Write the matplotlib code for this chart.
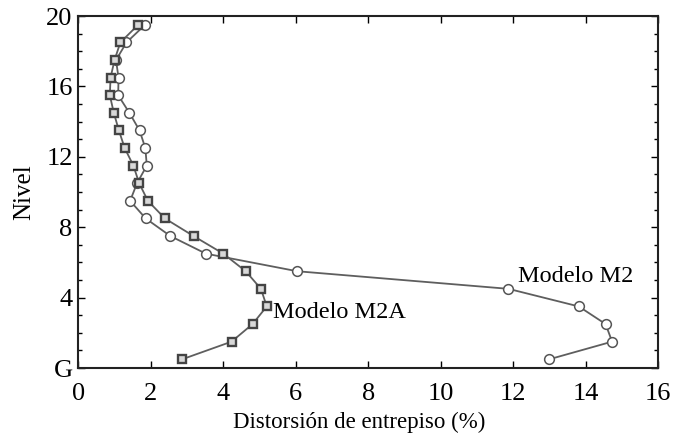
import matplotlib
matplotlib.use("Agg")
import matplotlib.pyplot as plt
from matplotlib.ticker import MultipleLocator

plt.rcParams['font.family'] = ['Liberation Serif', 'DejaVu Serif']

# Story levels (mid-height of each story)
niveles = [0.5, 1.5, 2.5, 3.5, 4.5, 5.5, 6.5, 7.5, 8.5, 9.5,
           10.5, 11.5, 12.5, 13.5, 14.5, 15.5, 16.5, 17.5, 18.5, 19.5]

# Interstory drift (%) for each model
drift_m2 = [13.0, 14.73, 14.55, 13.81, 11.87, 6.04, 3.52, 2.54, 1.86, 1.43,
            1.62, 1.89, 1.85, 1.69, 1.41, 1.10, 1.11, 1.04, 1.33, 1.84]
drift_m2a = [2.87, 4.23, 4.81, 5.20, 5.04, 4.62, 4.00, 3.18, 2.39, 1.92,
             1.68, 1.52, 1.28, 1.12, 0.98, 0.87, 0.89, 1.00, 1.16, 1.65]

x_ticks = [0, 2, 4, 6, 8, 10, 12, 14, 16]
y_ticks = [0, 4, 8, 12, 16, 20]
y_tick_labels = ['G', '4', '8', '12', '16', '20']

fig = plt.figure(figsize=(6.75, 4.34), dpi=100)
ax = fig.add_axes([0.116, 0.152, 0.859, 0.811])

line_color = '#5e5e5e'
ax.plot(drift_m2, niveles, color=line_color, lw=1.3, marker='o', ms=7,
        mfc='white', mec='#555555', mew=1.1, zorder=3)
ax.plot(drift_m2a, niveles, color=line_color, lw=1.3, marker='s', ms=6,
        mfc='#d8d8d8', mec='#444444', mew=1.7, zorder=4)

ax.text(12.14, 5.2, 'Modelo M2', fontsize=17.5, ha='left', va='center')
ax.text(5.37, 3.14, 'Modelo M2A', fontsize=17.5, ha='left', va='center')

ax.set_xlim(0, 16)
ax.set_ylim(0, 20)
ax.set_xticks(x_ticks)
ax.set_yticks(y_ticks)
ax.set_yticklabels(y_tick_labels)
ax.yaxis.set_minor_locator(MultipleLocator(1))

ax.tick_params(axis='both', which='major', direction='in', length=5,
               width=1.0, labelsize=19, top=True, right=True)
ax.tick_params(axis='y', which='minor', direction='in', length=3,
               width=1.0, right=True, left=True)
ax.tick_params(axis='x', which='major', pad=11)
ax.tick_params(axis='y', which='major', pad=4)

for s in ax.spines.values():
    s.set_linewidth(1.5)
    s.set_color('#222222')

ax.set_xlabel('Distorsión de entrepiso (%)', fontsize=16.5, labelpad=3)
ax.xaxis.set_label_coords(0.484, -0.125, transform=ax.transAxes)
ax.xaxis.label.set_va('top')
ax.set_ylabel('Nivel', fontsize=18, labelpad=8)

fig.savefig('out.png', dpi=100)
